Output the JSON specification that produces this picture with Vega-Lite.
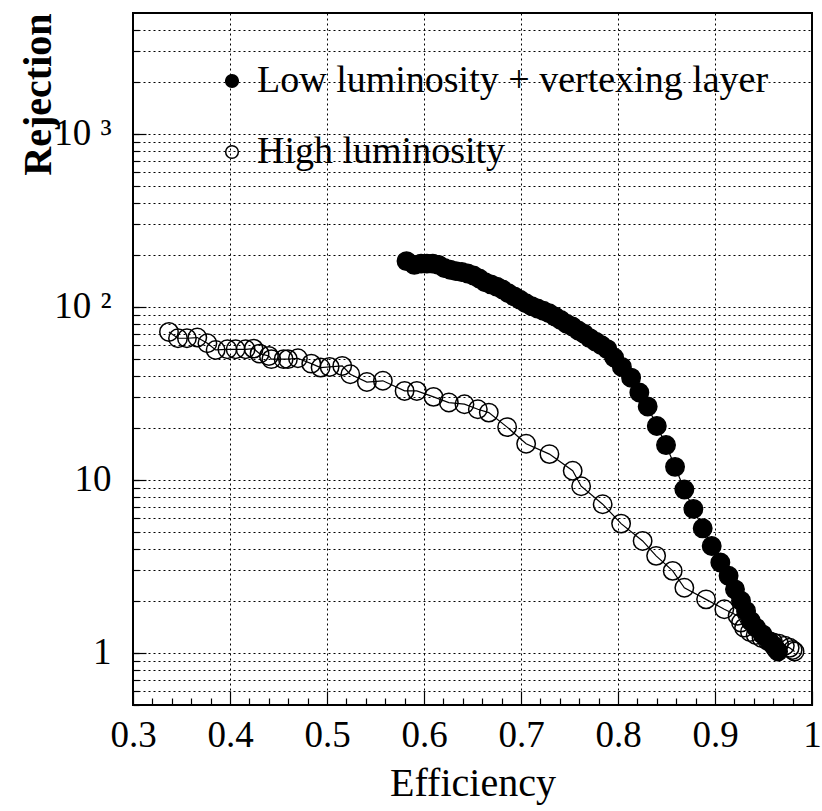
{
  "$schema": "https://vega.github.io/schema/vega-lite/v6.json",
  "width": 679,
  "height": 692,
  "autosize": "none",
  "padding": {"left": 133, "top": 13, "right": 10, "bottom": 106},
  "background": "white",
  "config": {
    "font": "'Liberation Serif', 'Times New Roman', Times, serif",
    "view": {"stroke": "black", "strokeWidth": 2},
    "axis": {"labelFont": "'Liberation Serif', 'Times New Roman', Times, serif", "titleFont": "'Liberation Serif', 'Times New Roman', Times, serif", "labelColor": "black", "titleColor": "black", "tickColor": "black", "domain": false},
    "legend": {"labelFont": "'Liberation Serif', 'Times New Roman', Times, serif"}
  },
  "datasets": {
    "curves": [
      {"series": "Low luminosity + vertexing layer", "eff": 0.582, "rej": 184},
      {"series": "Low luminosity + vertexing layer", "eff": 0.590, "rej": 175},
      {"series": "Low luminosity + vertexing layer", "eff": 0.597, "rej": 178},
      {"series": "Low luminosity + vertexing layer", "eff": 0.603, "rej": 178},
      {"series": "Low luminosity + vertexing layer", "eff": 0.609, "rej": 178},
      {"series": "Low luminosity + vertexing layer", "eff": 0.615, "rej": 175},
      {"series": "Low luminosity + vertexing layer", "eff": 0.621, "rej": 168},
      {"series": "Low luminosity + vertexing layer", "eff": 0.627, "rej": 164},
      {"series": "Low luminosity + vertexing layer", "eff": 0.633, "rej": 161},
      {"series": "Low luminosity + vertexing layer", "eff": 0.639, "rej": 159},
      {"series": "Low luminosity + vertexing layer", "eff": 0.645, "rej": 156},
      {"series": "Low luminosity + vertexing layer", "eff": 0.651, "rej": 152},
      {"series": "Low luminosity + vertexing layer", "eff": 0.657, "rej": 146},
      {"series": "Low luminosity + vertexing layer", "eff": 0.663, "rej": 139},
      {"series": "Low luminosity + vertexing layer", "eff": 0.669, "rej": 135},
      {"series": "Low luminosity + vertexing layer", "eff": 0.675, "rej": 131},
      {"series": "Low luminosity + vertexing layer", "eff": 0.681, "rej": 126},
      {"series": "Low luminosity + vertexing layer", "eff": 0.687, "rej": 120},
      {"series": "Low luminosity + vertexing layer", "eff": 0.693, "rej": 115},
      {"series": "Low luminosity + vertexing layer", "eff": 0.699, "rej": 110},
      {"series": "Low luminosity + vertexing layer", "eff": 0.705, "rej": 105},
      {"series": "Low luminosity + vertexing layer", "eff": 0.711, "rej": 101},
      {"series": "Low luminosity + vertexing layer", "eff": 0.717, "rej": 98},
      {"series": "Low luminosity + vertexing layer", "eff": 0.723, "rej": 95},
      {"series": "Low luminosity + vertexing layer", "eff": 0.729, "rej": 92},
      {"series": "Low luminosity + vertexing layer", "eff": 0.735, "rej": 88},
      {"series": "Low luminosity + vertexing layer", "eff": 0.741, "rej": 84},
      {"series": "Low luminosity + vertexing layer", "eff": 0.747, "rej": 80},
      {"series": "Low luminosity + vertexing layer", "eff": 0.753, "rej": 77},
      {"series": "Low luminosity + vertexing layer", "eff": 0.759, "rej": 73},
      {"series": "Low luminosity + vertexing layer", "eff": 0.765, "rej": 70},
      {"series": "Low luminosity + vertexing layer", "eff": 0.771, "rej": 66},
      {"series": "Low luminosity + vertexing layer", "eff": 0.777, "rej": 63},
      {"series": "Low luminosity + vertexing layer", "eff": 0.783, "rej": 60},
      {"series": "Low luminosity + vertexing layer", "eff": 0.789, "rej": 57},
      {"series": "Low luminosity + vertexing layer", "eff": 0.796, "rej": 51},
      {"series": "Low luminosity + vertexing layer", "eff": 0.804, "rej": 45},
      {"series": "Low luminosity + vertexing layer", "eff": 0.8135, "rej": 39},
      {"series": "Low luminosity + vertexing layer", "eff": 0.822, "rej": 32},
      {"series": "Low luminosity + vertexing layer", "eff": 0.8306, "rej": 26.6},
      {"series": "Low luminosity + vertexing layer", "eff": 0.840, "rej": 20.5},
      {"series": "Low luminosity + vertexing layer", "eff": 0.8495, "rej": 15.9},
      {"series": "Low luminosity + vertexing layer", "eff": 0.8588, "rej": 11.9},
      {"series": "Low luminosity + vertexing layer", "eff": 0.8684, "rej": 8.8},
      {"series": "Low luminosity + vertexing layer", "eff": 0.8777, "rej": 6.8},
      {"series": "Low luminosity + vertexing layer", "eff": 0.8873, "rej": 5.25},
      {"series": "Low luminosity + vertexing layer", "eff": 0.8966, "rej": 4.15},
      {"series": "Low luminosity + vertexing layer", "eff": 0.9055, "rej": 3.33},
      {"series": "Low luminosity + vertexing layer", "eff": 0.914, "rej": 2.79},
      {"series": "Low luminosity + vertexing layer", "eff": 0.9206, "rej": 2.33},
      {"series": "Low luminosity + vertexing layer", "eff": 0.9268, "rej": 2.0},
      {"series": "Low luminosity + vertexing layer", "eff": 0.932, "rej": 1.75},
      {"series": "Low luminosity + vertexing layer", "eff": 0.937, "rej": 1.53},
      {"series": "Low luminosity + vertexing layer", "eff": 0.9423, "rej": 1.40},
      {"series": "Low luminosity + vertexing layer", "eff": 0.949, "rej": 1.28},
      {"series": "Low luminosity + vertexing layer", "eff": 0.956, "rej": 1.17},
      {"series": "Low luminosity + vertexing layer", "eff": 0.9605, "rej": 1.10},
      {"series": "Low luminosity + vertexing layer", "eff": 0.963, "rej": 1.05},
      {"series": "Low luminosity + vertexing layer", "eff": 0.965, "rej": 1.02},
      {"series": "High luminosity", "eff": 0.3371, "rej": 71.7},
      {"series": "High luminosity", "eff": 0.3464, "rej": 65.9},
      {"series": "High luminosity", "eff": 0.3556, "rej": 65.9},
      {"series": "High luminosity", "eff": 0.3663, "rej": 66.5},
      {"series": "High luminosity", "eff": 0.3767, "rej": 61.7},
      {"series": "High luminosity", "eff": 0.3852, "rej": 56.4},
      {"series": "High luminosity", "eff": 0.3973, "rej": 56.9},
      {"series": "High luminosity", "eff": 0.4058, "rej": 56.9},
      {"series": "High luminosity", "eff": 0.4161, "rej": 56.9},
      {"series": "High luminosity", "eff": 0.4244, "rej": 57.4},
      {"series": "High luminosity", "eff": 0.4305, "rej": 53.7},
      {"series": "High luminosity", "eff": 0.4401, "rej": 52.1},
      {"series": "High luminosity", "eff": 0.4426, "rej": 49.9},
      {"series": "High luminosity", "eff": 0.4553, "rej": 49.9},
      {"series": "High luminosity", "eff": 0.4597, "rej": 49.9},
      {"series": "High luminosity", "eff": 0.470, "rej": 50.5},
      {"series": "High luminosity", "eff": 0.4838, "rej": 47},
      {"series": "High luminosity", "eff": 0.4934, "rej": 44.6},
      {"series": "High luminosity", "eff": 0.5027, "rej": 45},
      {"series": "High luminosity", "eff": 0.5157, "rej": 45.6},
      {"series": "High luminosity", "eff": 0.524, "rej": 40.8},
      {"series": "High luminosity", "eff": 0.5411, "rej": 36.8},
      {"series": "High luminosity", "eff": 0.5576, "rej": 37.4},
      {"series": "High luminosity", "eff": 0.580, "rej": 32.7},
      {"series": "High luminosity", "eff": 0.5926, "rej": 32.7},
      {"series": "High luminosity", "eff": 0.6098, "rej": 30.2},
      {"series": "High luminosity", "eff": 0.6256, "rej": 28},
      {"series": "High luminosity", "eff": 0.6417, "rej": 27.4},
      {"series": "High luminosity", "eff": 0.6555, "rej": 25.6},
      {"series": "High luminosity", "eff": 0.6668, "rej": 24.5},
      {"series": "High luminosity", "eff": 0.6857, "rej": 20.2},
      {"series": "High luminosity", "eff": 0.7053, "rej": 16.2},
      {"series": "High luminosity", "eff": 0.7293, "rej": 14.1},
      {"series": "High luminosity", "eff": 0.7533, "rej": 11.3},
      {"series": "High luminosity", "eff": 0.762, "rej": 9.2},
      {"series": "High luminosity", "eff": 0.7842, "rej": 7.24},
      {"series": "High luminosity", "eff": 0.8032, "rej": 5.59},
      {"series": "High luminosity", "eff": 0.8254, "rej": 4.44},
      {"series": "High luminosity", "eff": 0.8393, "rej": 3.64},
      {"series": "High luminosity", "eff": 0.8564, "rej": 2.98},
      {"series": "High luminosity", "eff": 0.8684, "rej": 2.38},
      {"series": "High luminosity", "eff": 0.8908, "rej": 2.04},
      {"series": "High luminosity", "eff": 0.9096, "rej": 1.79},
      {"series": "High luminosity", "eff": 0.9233, "rej": 1.64},
      {"series": "High luminosity", "eff": 0.9268, "rej": 1.50},
      {"series": "High luminosity", "eff": 0.930, "rej": 1.40},
      {"series": "High luminosity", "eff": 0.936, "rej": 1.32},
      {"series": "High luminosity", "eff": 0.942, "rej": 1.27},
      {"series": "High luminosity", "eff": 0.948, "rej": 1.22},
      {"series": "High luminosity", "eff": 0.954, "rej": 1.18},
      {"series": "High luminosity", "eff": 0.960, "rej": 1.15},
      {"series": "High luminosity", "eff": 0.966, "rej": 1.13},
      {"series": "High luminosity", "eff": 0.972, "rej": 1.10},
      {"series": "High luminosity", "eff": 0.977, "rej": 1.07},
      {"series": "High luminosity", "eff": 0.980, "rej": 1.04},
      {"series": "High luminosity", "eff": 0.982, "rej": 1.02}
    ]
  },
  "data": {"name": "curves"},
  "resolve": {"axis": {"x": "independent", "y": "independent"}},
  "layer": [
    {
      "mark": {"type": "line", "color": "black", "strokeWidth": 1.2},
      "encoding": {
        "x": {
          "field": "eff", "type": "quantitative",
          "scale": {"domain": [0.3, 1.0], "nice": false, "zero": false},
          "axis": {
            "orient": "bottom",
            "values": [0.3, 0.4, 0.5, 0.6, 0.7, 0.8, 0.9, 1.0],
            "labelExpr": "datum.value >= 0.999 ? '1' : format(datum.value, '.1f')",
            "labelFontSize": 37, "labelPadding": 26, "labelFlush": false,
            "tickSize": -14, "tickWidth": 1.2,
            "grid": true, "gridColor": "black", "gridDash": [2, 3], "gridWidth": 1, "gridOpacity": 1,
            "title": "Efficiency", "titleFontSize": 40, "titleFontWeight": "normal", "titlePadding": 10
          }
        },
        "y": {
          "field": "rej", "type": "quantitative",
          "scale": {"type": "log", "domain": [0.5, 5000], "nice": false},
          "axis": {
            "orient": "left",
            "values": [1, 10, 100, 1000],
            "labelExpr": "datum.value == 1 ? '1' : datum.value == 10 ? '10' : datum.value == 100 ? '10 ²' : '10 ³'",
            "labelFontSize": 37, "labelPadding": 35,
            "tickSize": -13, "tickWidth": 1.2,
            "grid": false,
            "title": "Rejection", "titleFontSize": 40, "titleFontWeight": "bold",
            "titleAnchor": "end", "titleX": -83, "titleY": 0, "titleAlign": "right", "titleBaseline": "alphabetic", "titleAngle": -90
          }
        },
        "detail": {"field": "series", "type": "nominal"}
      }
    },
    {
      "mark": {"type": "point", "shape": "circle", "filled": true, "stroke": "black", "strokeWidth": 1.5, "size": 340, "opacity": 1},
      "encoding": {
        "x": {
          "field": "eff", "type": "quantitative",
          "axis": {
            "orient": "bottom",
            "values": [0.32, 0.34, 0.36, 0.38, 0.42, 0.44, 0.46, 0.48, 0.52, 0.54, 0.56, 0.58, 0.62, 0.64, 0.66, 0.68, 0.72, 0.74, 0.76, 0.78, 0.82, 0.84, 0.86, 0.88, 0.92, 0.94, 0.96, 0.98],
            "labels": false, "tickSize": -7, "tickWidth": 1.2, "grid": false, "title": null
          }
        },
        "y": {
          "field": "rej", "type": "quantitative",
          "axis": {
            "orient": "left",
            "values": [0.5, 0.6, 0.7, 0.8, 0.9, 1, 2, 3, 4, 5, 6, 7, 8, 9, 10, 20, 30, 40, 50, 60, 70, 80, 90, 100, 200, 300, 400, 500, 600, 700, 800, 900, 1000, 2000, 3000, 4000],
            "labels": false, "tickSize": -6, "tickWidth": 1.2,
            "grid": true, "gridColor": "black", "gridDash": [2, 3], "gridWidth": 1, "gridOpacity": 1,
            "title": null
          }
        },
        "fill": {
          "field": "series", "type": "nominal",
          "scale": {"domain": ["Low luminosity + vertexing layer", "High luminosity"], "range": ["black", "transparent"]},
          "legend": {
            "orient": "none", "legendX": 80, "legendY": 49, "title": null,
            "padding": 0, "symbolType": "circle", "symbolSize": 160,
            "symbolStrokeColor": "black", "symbolStrokeWidth": 1.5,
            "labelFont": "'Liberation Serif', 'Times New Roman', Times, serif", "labelFontSize": 38, "labelColor": "black",
            "labelOffset": 6, "rowPadding": 33, "labelLimit": 800
          }
        }
      }
    }
  ]
}
